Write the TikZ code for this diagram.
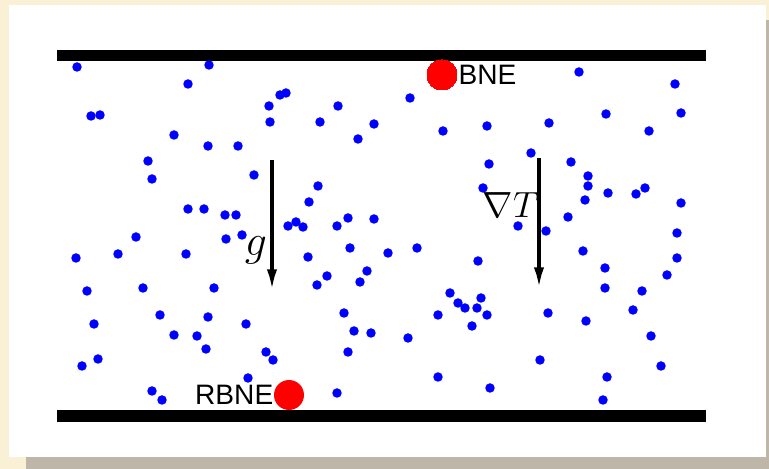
\documentclass[tikz,border=0pt]{standalone}
\usepackage{amsmath,amssymb}
\usepackage{fontspec}
\setsansfont{Liberation Sans}
\usetikzlibrary{arrows.meta,positioning}
\definecolor{paperbg}{RGB}{250,240,214}
\definecolor{shadowgray}{RGB}{190,182,168}
\definecolor{molblue}{RGB}{0,0,255}
\definecolor{nucred}{RGB}{255,0,0}
\newcommand{\particle}[1]{\fill[molblue] #1 circle (0.095cm);}
\newcommand{\plate}[2]{\fill[black] (57,#1) rectangle (706,#2);}
\tikzset{
  nucleus/.style={circle,fill=nucred,draw=none,minimum size=0.6cm,inner sep=0pt},
  tagtext/.style={font=\sffamily\fontsize{16}{18}\selectfont,inner sep=0pt},
  fieldarrow/.style={line width=0.08cm,-{Latex[length=0.45cm,width=0.2cm]}},
  fieldlabel/.style={font=\fontsize{22}{26}\selectfont,inner sep=0pt}
}

\begin{document}
\begin{tikzpicture}[x=0.02cm,y=-0.02cm]
		\useasboundingbox (0,0) rectangle (769,469);
		\fill[paperbg] (0,0) rectangle (769,469);
		\fill[shadowgray] (26,20) rectangle (780,480);
		\fill[white] (9,5) rectangle (766,457);
		% walls
		\plate{50}{61} \plate{410}{422}
		% suspended particles
		\foreach \px/\py in {77/67,209/65,188/84,91/116,100/115,269/106,280/95,286/93,270/122,320/122,338/106,358/139,374/124,410/98,443/131,487/126,549/123,579/72,675/84,606/114,681/113,649/131,
			174/135,208/146,238/146,148/161,152/179,254/175,318/186,309/202,489/164,531/153,571/162,588/176,588/186,585/200,608/193,636/194,645/188,681/203,483/188,
			188/209,204/209,225/215,236/215,288/226,296/222,303/227,337/226,348/218,374/219,518/226,568/217,546/231,677/233,
			136/237,226/239,242/235,76/258,118/254,186/254,308/257,350/248,388/253,417/248,478/261,583/251,677/258,
			87/291,143/288,214/288,327/276,317/285,367/271,360/282,605/268,667/275,605/288,642/291,
			450/293,458/303,465/308,477/308,481/298,487/315,472/326,438/315,
			160/315,94/324,208/317,246/324,174/335,197/336,206/349,98/359,82/366,266/352,273/360,
			344/313,354/331,371/333,408/338,348/352,
			548/313,586/321,633/310,651/336,540/360,661/366,607/377,603/400,
			438/377,490/388,337/393,248/378,152/391,162/400}
			\particle{(\px,\py)}
		% nuclei
		\node[nucleus] (bne) at (442,75) {};
		\node[tagtext,right=0.5pt of bne] (bnetag) {BNE};
		\node[nucleus] (rbne) at (289,395) {};
		\node[tagtext,left=0pt of rbne] (rbnetag) {RBNE};
		% gravity and gradient
		\coordinate (gtop) at (272,160);
		\coordinate (gbot) at (272,292);
		\draw[fieldarrow] (gtop) -- (gbot);
		\node[fieldlabel,font=\fontsize{29}{32}\selectfont] (glabel) at (256,250) {$g$};
		\coordinate (ttop) at (539,158);
		\coordinate (tbot) at (539,290);
		\draw[fieldarrow] (ttop) -- (tbot);
		\node[fieldlabel] (tlabel) at (511,205) {$\nabla T$};
\end{tikzpicture}
\end{document}
